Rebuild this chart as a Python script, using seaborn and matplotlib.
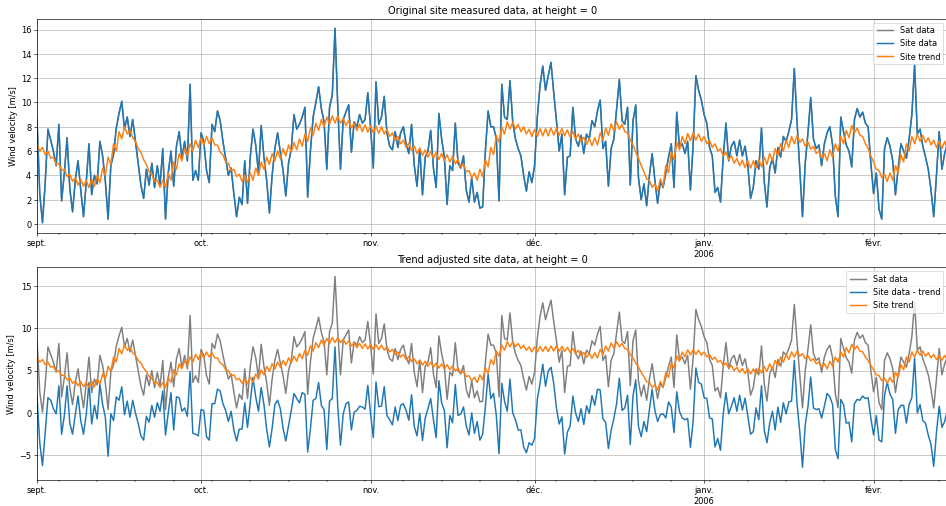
import matplotlib
matplotlib.use("Agg")
import matplotlib.pyplot as plt
import matplotlib.dates as mdates
from matplotlib.ticker import FuncFormatter
import seaborn as sns
import pandas as pd
import numpy as np

# ---------------- data (12-hourly samples) ----------------
START = "2005-09-01 00:00"
STEP = "12h"

site_speed = [
    8.6, 2.5, 0.1, 3.4, 7.8, 6.9, 6.0, 4.8, 8.2, 1.9,
    4.2, 7.1, 2.9, 1.0, 3.6, 5.2, 2.8, 0.6, 3.4, 6.6,
    2.4, 4.0, 3.3, 6.8, 5.6, 3.5, 0.4, 4.8, 5.7, 7.9,
    9.1, 10.1, 7.8, 8.8, 7.2, 8.6, 6.8, 5.0, 3.2, 2.1,
    4.5, 3.2, 5.0, 3.0, 4.8, 3.2, 6.2, 0.4, 4.2, 6.0,
    3.1, 6.4, 7.6, 5.4, 6.8, 5.2, 11.5,
    3.6, 4.4, 3.6, 7.5, 6.8, 4.4, 3.4, 8.2, 7.6, 9.3,
    8.5, 6.8, 5.4, 4.0, 4.6, 2.5, 0.6, 2.2, 1.6, 5.2,
    1.7, 5.5, 7.8, 6.5, 4.2, 8.1, 5.5, 3.6, 0.9, 4.0,
    6.2, 7.5, 5.9, 4.4, 2.3, 5.0, 6.2, 9.0, 7.8, 8.2,
    8.8, 9.6, 2.2, 6.0, 8.8, 10.0, 11.3, 9.5, 8.4, 4.5,
    9.6, 10.6, 16.1, 9.7, 4.5,
    8.6, 9.2, 9.8, 5.9, 8.4, 8.0, 9.0, 8.3, 8.6, 10.8,
    8.0, 4.6, 11.7, 8.2, 8.8, 10.5, 7.5, 6.4, 6.1, 7.6,
    6.3, 7.5, 8.0, 6.6, 5.8, 8.2, 4.8, 3.1, 6.2, 2.4,
    5.5, 6.0, 7.7, 4.6, 3.0, 9.1, 7.0, 5.5, 1.6, 4.8,
    4.4, 8.3, 5.0, 4.6, 5.6, 2.8, 1.8, 3.8, 1.8, 2.6,
    1.3, 1.4, 6.0, 9.3, 8.0, 8.0,
    7.0, 1.9, 11.5, 8.8, 8.6, 11.8, 8.4, 7.0, 6.2, 5.6,
    4.0, 2.7, 4.3, 3.4, 4.8, 8.8, 11.4, 13.0, 11.0, 12.2,
    13.3, 10.8, 8.5, 6.0, 7.4, 2.4, 5.5, 5.6, 9.6, 7.0,
    6.4, 7.3, 5.8, 7.4, 7.0, 8.5, 8.0, 9.3, 10.2, 6.2,
    6.8, 3.1, 6.2, 7.0, 9.5, 11.9, 8.5, 8.2, 9.6, 3.2,
    8.5, 9.8, 3.8, 2.0, 3.3, 1.5,
    4.0, 5.8, 3.6, 1.7, 3.5, 3.0, 4.2, 5.5, 6.6, 3.0,
    9.2, 6.3, 6.6, 5.8, 6.8, 2.8, 6.5, 12.2, 11.0, 10.2,
    9.0, 8.3, 6.3, 5.6, 2.6, 3.0, 1.8, 5.5, 8.3, 5.2,
    6.4, 6.8, 5.6, 6.9, 5.6, 6.4, 4.8, 2.1, 3.0, 5.2,
    4.5, 7.9, 3.5, 1.4, 4.6, 5.4, 4.2, 6.3, 5.5, 7.2,
    6.8, 7.6, 8.6, 12.8, 8.4,
    4.5, 0.6, 5.0, 7.5, 10.4, 7.0, 6.2, 6.5, 4.8, 6.6,
    7.5, 8.0, 6.5, 2.3, 0.6, 8.8, 7.6, 6.5, 6.0, 4.7,
    8.6, 9.5, 8.8, 9.2, 8.3, 8.0, 5.0, 2.5, 4.2, 1.2,
    0.4, 6.2, 7.1, 6.4, 5.2, 2.4, 4.6, 6.6, 6.0, 5.4,
    7.0, 9.0, 13.1, 7.4, 7.8, 6.4, 5.5, 4.5, 2.8, 0.6,
    4.0, 7.6, 4.5, 5.8, 6.6,
]

trend_speed = [
    6.6, 6.0, 6.3, 5.7, 6.0, 5.4, 5.5, 4.9, 5.0, 4.4,
    4.5, 3.9, 4.1, 3.5, 3.8, 3.2, 3.7, 3.1, 3.6, 3.0,
    3.7, 3.1, 4.0, 3.4, 4.6, 4.0, 5.5, 4.9, 6.6, 6.0,
    7.6, 7.0, 8.0, 7.4, 7.7, 7.1, 6.8, 6.2, 5.9, 5.3,
    4.9, 4.3, 4.1, 3.5, 3.6, 3.0, 3.6, 3.0, 4.2, 3.6,
    5.1, 4.5, 5.8, 5.2, 6.2, 5.6, 6.6, 6.0, 6.9, 6.3,
    7.1, 6.5, 7.2, 6.6, 7.1, 6.5, 6.5, 5.9, 5.7, 5.1,
    5.0, 4.4, 4.5, 3.9, 4.1, 3.5, 4.0, 3.4, 4.2, 3.6,
    4.6, 4.0, 5.1, 4.5, 5.5, 4.9, 5.8, 5.2, 6.0, 5.4,
    6.2, 5.6, 6.5, 5.9, 6.7, 6.1, 7.0, 6.4, 7.4, 6.8,
    7.9, 7.3, 8.3, 7.7, 8.6, 8.0, 8.8, 8.2, 8.9, 8.3,
    8.9, 8.3, 8.7, 8.1, 8.5, 7.9, 8.3, 7.7, 8.2, 7.6,
    8.15, 7.55, 8.1, 7.5, 8.05, 7.45, 8.0, 7.4, 7.8, 7.2,
    7.5, 6.9, 7.2, 6.6, 6.9, 6.3, 6.65, 6.05, 6.4, 5.8,
    6.25, 5.65, 6.1, 5.5, 6.0, 5.4, 5.9, 5.3, 5.8, 5.2,
    5.7, 5.1, 5.55, 4.95, 5.3, 4.7, 4.9, 4.3, 4.4, 3.8,
    4.2, 3.6, 4.5, 3.9, 5.3, 4.7, 6.3, 5.7, 7.3, 6.7,
    8.0, 7.4, 8.4, 7.8, 8.4, 7.8, 8.2, 7.6, 8.0, 7.4,
    7.8, 7.2, 7.8, 7.2, 7.85, 7.25, 7.85, 7.25, 7.9, 7.3,
    7.9, 7.3, 7.85, 7.25, 7.75, 7.15, 7.6, 7.0, 7.4, 6.8,
    7.15, 6.55, 7.05, 6.45, 7.1, 6.5, 7.5, 6.9, 7.9, 7.3,
    8.25, 7.65, 8.4, 7.8, 8.2, 7.6, 7.5, 6.9, 6.5, 5.9,
    5.4, 4.8, 4.3, 3.7, 3.6, 3.0, 3.3, 2.7, 3.7, 3.1,
    4.8, 4.2, 5.9, 5.3, 6.7, 6.1, 7.2, 6.6, 7.45, 6.85,
    7.5, 6.9, 7.4, 6.8, 7.2, 6.6, 6.9, 6.3, 6.6, 6.0,
    6.2, 5.6, 5.9, 5.3, 5.6, 5.0, 5.4, 4.8, 5.25, 4.65,
    5.2, 4.6, 5.2, 4.6, 5.3, 4.7, 5.5, 4.9, 5.8, 5.2,
    6.2, 5.6, 6.6, 6.0, 6.9, 6.3, 7.2, 6.6, 7.3, 6.7,
    7.0, 6.4, 6.75, 6.15, 6.4, 5.8, 6.0, 5.4, 5.8, 5.2,
    6.1, 5.5, 6.6, 6.0, 7.2, 6.6, 7.7, 7.1, 8.1, 7.5,
    7.9, 7.3, 7.2, 6.6, 6.2, 5.6, 5.1, 4.5, 4.4, 3.8,
    4.1, 3.5, 4.2, 3.6, 4.8, 4.2, 5.7, 5.1, 6.6, 6.0,
    7.2, 6.6, 7.4, 6.8, 7.3, 6.7, 7.1, 6.5, 6.9, 6.3,
    6.8, 6.2, 6.8, 6.2,
]

# satellite series coincides with the site series in the chart
sat_speed = list(site_speed)

month_names = {9: "sept.", 10: "oct.", 11: "nov.", 12: "déc.", 1: "janv.", 2: "févr."}
titles = ["Original site measured data, at height = 0",
          "Trend adjusted site data, at height = 0"]
legend_top = ["Sat data", "Site data", "Site trend"]
legend_bottom = ["Sat data", "Site data - trend", "Site trend"]
y_label = "Wind velocity [m/s]"

# ---------------- frame ----------------
n = min(len(site_speed), len(trend_speed))
times = pd.date_range(START, periods=n, freq=STEP)
df = pd.DataFrame({
    "time": times,
    "sat": sat_speed[:n],
    "site": site_speed[:n],
    "trend": trend_speed[:n],
})
df["detrended"] = df["site"] - df["trend"]

DPI = 59
fig = plt.figure(figsize=(946.4 / DPI, 506.4 / DPI), dpi=DPI)
W, H = 946.0, 506.0
ax1 = fig.add_axes([37 / W, 1 - 233.3 / H, (947 - 37) / W, (233.3 - 19) / H])
ax2 = fig.add_axes([37 / W, 1 - 480 / H, (947 - 37) / W, (480 - 267.3) / H])

GRAY, BLUE, ORANGE = "tab:gray", "tab:blue", "tab:orange"


def month_fmt(x, pos=None):
    d = mdates.num2date(x)
    lab = month_names.get(d.month, "")
    if d.month == 1:
        lab += "\n" + str(d.year)
    return lab


for ax, series, labels, title in [
    (ax1, ["sat", "site", "trend"], legend_top, titles[0]),
    (ax2, ["sat", "detrended", "trend"], legend_bottom, titles[1]),
]:
    for col, lab, colr in zip(series, labels, [GRAY, BLUE, ORANGE]):
        sns.lineplot(data=df, x="time", y=col, ax=ax, color=colr, label=lab,
                     estimator=None, linewidth=1.8)
    ax.set_xlim(df["time"].iloc[0], df["time"].iloc[-1])
    ax.xaxis.set_major_locator(mdates.MonthLocator())
    ax.xaxis.set_major_formatter(FuncFormatter(month_fmt))
    ax.xaxis.set_minor_locator(mdates.WeekdayLocator(byweekday=mdates.MO))
    ax.grid(True, which="major")
    ax.set_xlabel("")
    ax.set_ylabel(y_label)
    ax.set_title(title)
    ax.legend(loc="upper right")
    for t in ax.get_xticklabels():
        t.set_rotation(0)
        t.set_ha("center")

ax1.set_ylim(-0.75, 16.9)
ax2.set_ylim(-7.9, 17.2)

fig.savefig("out.png", dpi=DPI)
